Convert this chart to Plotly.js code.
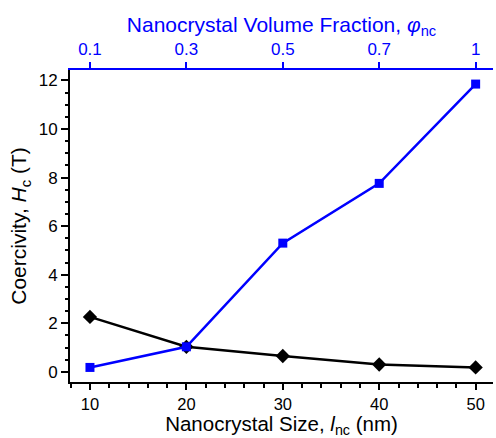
<!DOCTYPE html>
<html>
<head>
<meta charset="utf-8">
<script src="https://cdn.plot.ly/plotly-3.0.1.min.js"></script>
<style>html,body{margin:0;padding:0;background:#fff;}#chart{width:496px;height:438px;}</style>
</head>
<body>
<div id="chart"></div>
<script>
// Data
const sizeNm = [10, 20, 30, 40, 50];
const coercivityVsSize = [2.26, 1.03, 0.65, 0.30, 0.18];
const volumeFraction = ['0.1', '0.3', '0.5', '0.7', '1'];
const coercivityVsFraction = [0.18, 1.03, 5.30, 7.76, 11.85];
const sizeTicks = [10, 20, 30, 40, 50];

const BLUE = 'rgb(0,0,255)';
const FONT = 'Arial, "Liberation Sans", sans-serif';
const TICK = 17;
const TITLE = 21;

const traces = [
  {
    x: sizeNm, y: coercivityVsSize, xaxis: 'x', yaxis: 'y',
    mode: 'lines+markers', type: 'scatter',
    line: {color: 'black', width: 2.5},
    marker: {symbol: 'diamond', size: 11, color: 'black'},
    cliponaxis: false, showlegend: false
  },
  {
    x: volumeFraction, y: coercivityVsFraction, xaxis: 'x2', yaxis: 'y',
    mode: 'lines+markers', type: 'scatter',
    line: {color: BLUE, width: 2.5},
    marker: {symbol: 'square', size: 9, color: BLUE},
    cliponaxis: false, showlegend: false
  }
];

const xr = [7.93, 51.8];
const layout = {
  width: 496, height: 438,
  margin: {l: 70, r: 3, t: 70, b: 56},
  paper_bgcolor: 'white', plot_bgcolor: 'white',
  font: {family: FONT, size: TICK, color: 'black'},
  showlegend: false,
  xaxis: {
    range: xr, tickvals: sizeTicks, ticks: 'outside', ticklen: 6, tickwidth: 2, tickcolor: 'black',
    minor: {dtick: 2, tick0: 10, ticks: 'outside', ticklen: 4, tickwidth: 2, tickcolor: 'black'},
    showline: true, linecolor: 'black', linewidth: 2, showgrid: false, zeroline: false,
    tickfont: {size: 16.5, color: 'black'},
    title: {text: 'Nanocrystal Size, <i>l</i><sub>nc</sub> (nm)', font: {size: 20.5, color: 'black'}, standoff: 4}
  },
  xaxis2: {
    type: 'category', overlaying: 'x', side: 'top', anchor: 'y',
    range: [(xr[0] - 10) / 10, (xr[1] - 10) / 10],
    ticks: 'outside', ticklen: 6, tickwidth: 2, tickcolor: BLUE,
    showline: true, linecolor: BLUE, linewidth: 2, showgrid: false, zeroline: false,
    tickfont: {size: TICK, color: BLUE},
    title: {text: 'Nanocrystal Volume Fraction, <i>φ</i><sub>nc</sub>', font: {size: TITLE, color: BLUE}, standoff: 2}
  },
  xaxis3: {
    overlaying: 'x', side: 'top', anchor: 'y', range: xr,
    tick0: 10, dtick: 2, ticks: 'outside', ticklen: 3.5, tickwidth: 2, tickcolor: BLUE,
    showticklabels: false, showline: false, showgrid: false, zeroline: false
  },
  yaxis: {
    range: [-0.42, 12.43], dtick: 2, tick0: 0, ticks: 'outside', ticklen: 7, tickwidth: 2, tickcolor: 'black',
    minor: {dtick: 0.5, tick0: 0, ticks: 'outside', ticklen: 3.5, tickwidth: 2, tickcolor: 'black'},
    showline: true, linecolor: 'black', linewidth: 2, showgrid: false, zeroline: false,
    tickfont: {size: TICK, color: 'black'},
    title: {text: 'Coercivity, <i>H</i><sub>c</sub> (T)', font: {size: TITLE, color: 'black'}, standoff: 6}
  },
  yaxis2: {
    overlaying: 'y', side: 'right', anchor: 'x', range: [-0.42, 12.43],
    dtick: 2, tick0: 0, ticks: 'inside', ticklen: 5, tickwidth: 2, tickcolor: 'black',
    minor: {dtick: 0.5, tick0: 0, ticks: 'inside', ticklen: 3.5, tickwidth: 2, tickcolor: 'black'},
    showticklabels: false, showline: true, linecolor: 'black', linewidth: 2, showgrid: false, zeroline: false
  }
};

Plotly.newPlot('chart', traces, layout, {displayModeBar: false, staticPlot: true});
</script>
</body>
</html>
